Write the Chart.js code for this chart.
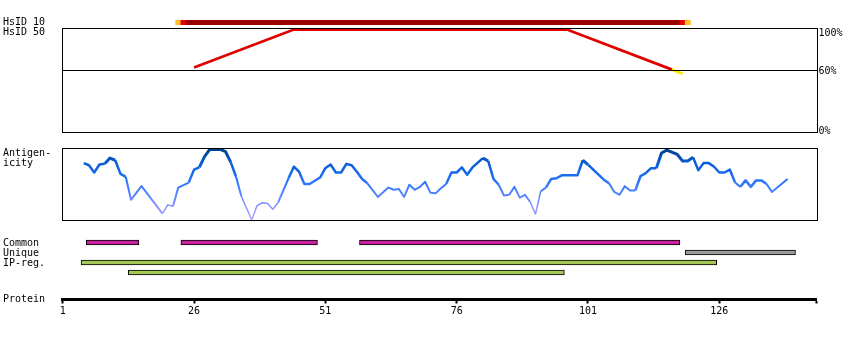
<!DOCTYPE html>
<html><head><meta charset="utf-8">
<script src="https://cdn.jsdelivr.net/npm/chart.js@4.4.1/dist/chart.umd.min.js"></script>
<style>
html,body{margin:0;padding:0;background:#fff;}
#wrap{position:relative;width:850px;height:340px;overflow:hidden;background:#fff;font-family:"DejaVu Sans Mono",monospace;font-size:10px;line-height:10px;color:#000;}
canvas{position:absolute;left:0;}
.lbl{position:absolute;left:3px;white-space:pre;}
</style></head><body>
<div id="wrap">
<canvas id="cHom" width="850" height="140" style="top:0px"></canvas>
<canvas id="cHsid10" width="850" height="5" style="top:20px"></canvas>
<canvas id="cAnt" width="850" height="90" style="top:140px"></canvas>
<canvas id="cFeat" width="850" height="41" style="top:237px"></canvas>
<canvas id="cAxis" width="850" height="40" style="top:280px"></canvas>
<div class="lbl" style="top:17px">HsID 10
HsID 50</div>
<div class="lbl" style="top:147.5px">Antigen-
icity</div>
<div class="lbl" style="top:237.5px">Common
Unique
IP-reg.</div>
<div class="lbl" style="top:294px">Protein</div>
</div>
<script>
// ---------- data ----------
const PROTEIN_LENGTH = 144;
const AXIS_TICKS = [1, 26, 51, 76, 101, 126];

// HsID 10 coverage (residue ranges with identity class)
const HSID10_START = [23, 24, 25, 119, 120];
const HSID10_END   = [23, 24, 118, 119, 120];
const HSID10_CLASS = ['low', 'mid', 'high', 'mid', 'low'];

// HsID 50 identity line (%)
const HSID50_RES = [26, 45, 97, 117, 119];
const HSID50_VAL = [62, 98.5, 98.5, 60, 56];
const HSID_TICKS = [0, 60, 100];
const HSID_THRESHOLD = 60;

// Antigenicity profile
const ANTIGEN_RES = [5,6,7,8,9,10,11,12,13,14,16,20,21,22,23,25,26,27,28,29,31,32,33,34,35,37,38,39,40,41,42,44,45,46,47,48,50,51,52,53,54,55,56,57,58,59,61,63,64,65,66,67,68,69,70,71,72,73,74,75,76,77,78,79,81,82,83,84,85,86,87,88,89,90,91,92,93,94,95,96,99,100,101,104,105,106,107,108,109,110,111,112,113,114,115,116,118,119,120,121,122,123,124,125,126,127,128,129,130,131,132,133,134,135,136,139];
const ANTIGEN_VAL = [79,76,66,77,78,86,83,64,60,28,47,9,21,19,45,52,70,73,88,98,98,95,80,60,33,0,20,24,23,15,24,58,74,67,50,50,59,72,77,66,66,78,76,67,57,51,32,45,42,43,32,49,42,46,53,38,37,44,50,66,66,73,63,73,86,82,57,49,34,35,46,31,35,25,8,40,45,57,58,62,62,83,77,56,51,39,35,47,41,41,61,65,72,72,93,97,91,82,82,87,69,79,79,74,66,66,70,52,46,55,46,55,55,50,39,57];

// Feature tracks
const FEATURE_TYPE  = ['Common', 'Common', 'Common', 'Unique', 'IP-reg.', 'IP-reg.'];
const FEATURE_ROW   = [0, 0, 0, 1, 2, 3];
const FEATURE_START = [6, 24, 58, 120, 5, 14];
const FEATURE_END   = [15, 49, 118, 140, 125, 96];

// ---------- styles ----------
const FONT = '10px "DejaVu Sans Mono"';
const HSID10_COLOR = {low: '#ffbf22', mid: '#e40000', high: '#9a0000'};
const RED = '#e00000', YELLOW = '#ffe800';
const TYPE_COLOR = {'Common': '#c8209e', 'Unique': '#9c9c9c', 'IP-reg.': '#a4c858'};
const PAD = {left: 62.7, right: 33.5};
const XMAX = PROTEIN_LENGTH + 0.5;

const baseOpts = () => ({
  responsive: false, animation: false, events: [],
  plugins: {legend: {display: false}, tooltip: {enabled: false}}
});

const framePlugin = {
  id: 'frame',
  afterDraw(chart, args, opts) {
    const {ctx, chartArea: a, scales} = chart;
    ctx.save();
    ctx.strokeStyle = '#000'; ctx.lineWidth = 1;
    const l = Math.floor(a.left) + 0.5, r = Math.ceil(a.right) + 0.5;
    const t = Math.round(a.top) + 0.5, b = Math.round(a.bottom) + 0.5;
    ctx.strokeRect(l, t, r - l, b - t);
    (opts.lines || []).forEach(v => {
      const y = Math.round(scales.y.getPixelForValue(v)) + 0.5;
      ctx.beginPath(); ctx.moveTo(l, y); ctx.lineTo(r, y); ctx.stroke();
    });
    if (opts.labels) {
      ctx.fillStyle = '#000'; ctx.font = FONT; ctx.textAlign = 'left'; ctx.textBaseline = 'alphabetic';
      opts.labels.forEach(v => {
        const p = scales.y.getPixelForValue(v);
        const yb = Math.min(Math.max(p + 4, a.top + 8), a.bottom + 1.5);
        ctx.fillText(v + '%', r + 1, yb);
      });
    }
    ctx.restore();
  }
};

// ---------- homology (HsID 50) ----------
new Chart(document.getElementById('cHom'), {
  type: 'line',
  data: {datasets: [{
    data: HSID50_RES.map((r, i) => ({x: r, y: HSID50_VAL[i]})),
    borderColor: RED, borderWidth: 2.8, pointRadius: 0, tension: 0, borderCapStyle: 'butt',
    segment: {borderColor: c => c.p1.parsed.y < HSID_THRESHOLD ? YELLOW : RED}
  }]},
  options: Object.assign(baseOpts(), {
    layout: {padding: {left: PAD.left, right: PAD.right, top: 28, bottom: 8}},
    scales: {
      x: {type: 'linear', min: 1, max: XMAX, display: false},
      y: {type: 'linear', min: 0, max: 100, display: false}
    },
    plugins: {legend: {display: false}, tooltip: {enabled: false},
      frame: {lines: HSID_TICKS.filter(v => v > 0 && v < 100), labels: HSID_TICKS.slice().reverse()}}
  }),
  plugins: [framePlugin]
});

// ---------- HsID 10 bar ----------
new Chart(document.getElementById('cHsid10'), {
  type: 'bar',
  data: {datasets: [{
    data: HSID10_START.map((s, i) => ({x: [s - 0.5, HSID10_END[i] + 0.5], y: 0})),
    backgroundColor: HSID10_CLASS.map(c => HSID10_COLOR[c]),
    borderWidth: 0, barThickness: 5
  }]},
  options: Object.assign(baseOpts(), {
    indexAxis: 'y',
    layout: {padding: {left: PAD.left, right: PAD.right, top: 0, bottom: 0}},
    scales: {
      x: {type: 'linear', min: 1, max: XMAX, display: false},
      y: {type: 'linear', min: -0.5, max: 0.5, offset: false, grid: {offset: false}, display: false}
    }
  })
});

// ---------- antigenicity ----------
function antigenGradient(chart) {
  const {ctx, chartArea, scales} = chart;
  if (!chartArea || !scales.y) return '#1a6ef0';
  const g = ctx.createLinearGradient(0, scales.y.getPixelForValue(0), 0, scales.y.getPixelForValue(100));
  g.addColorStop(0.0, '#b0a4ff');
  g.addColorStop(0.2, '#8890ff');
  g.addColorStop(0.4, '#4a82ff');
  g.addColorStop(0.6, '#1a6ff4');
  g.addColorStop(0.8, '#0a5cd2');
  g.addColorStop(1.0, '#003d82');
  return g;
}
function antigenWidth(v) { return v >= 80 ? 3 : v >= 50 ? 2.5 : v >= 25 ? 2 : 1.5; }

new Chart(document.getElementById('cAnt'), {
  type: 'line',
  data: {datasets: [{
    data: ANTIGEN_RES.map((r, i) => ({x: r, y: ANTIGEN_VAL[i]})),
    borderColor: c => antigenGradient(c.chart),
    borderWidth: 2, pointRadius: 0, tension: 0, borderJoinStyle: 'round',
    segment: {borderWidth: c => antigenWidth((c.p0.parsed.y + c.p1.parsed.y) / 2)}
  }]},
  options: Object.assign(baseOpts(), {
    layout: {padding: {left: PAD.left, right: PAD.right, top: 8, bottom: 10}},
    scales: {
      x: {type: 'linear', min: 1, max: XMAX, display: false},
      y: {type: 'linear', min: 0, max: 100, display: false}
    },
    plugins: {legend: {display: false}, tooltip: {enabled: false}, frame: {}}
  }),
  plugins: [framePlugin]
});

// ---------- feature tracks ----------
new Chart(document.getElementById('cFeat'), {
  type: 'bar',
  data: {datasets: [{
    data: FEATURE_START.map((s, i) => ({x: [s - 0.5, FEATURE_END[i] + 0.5], y: FEATURE_ROW[i]})),
    backgroundColor: FEATURE_TYPE.map(t => TYPE_COLOR[t]),
    borderColor: '#000', borderWidth: 1, borderSkipped: false, barThickness: 5
  }]},
  options: Object.assign(baseOpts(), {
    indexAxis: 'y',
    layout: {padding: {left: PAD.left, right: PAD.right, top: 0.5, bottom: 0.5}},
    scales: {
      x: {type: 'linear', min: 1, max: XMAX, display: false},
      y: {type: 'linear', min: -0.5, max: 3.5, reverse: true, offset: false, grid: {offset: false}, display: false}
    }
  })
});

// ---------- protein axis ----------
new Chart(document.getElementById('cAxis'), {
  type: 'line',
  data: {datasets: []},
  options: Object.assign(baseOpts(), {
    layout: {padding: {left: PAD.left, right: PAD.right, top: 0, bottom: 0}},
    scales: {
      x: {
        type: 'linear', min: 1, max: XMAX, position: 'bottom',
        afterBuildTicks: s => { s.ticks = AXIS_TICKS.concat([XMAX]).map(v => ({value: v})); },
        afterFit: s => { s.height = 20.5; },
        border: {display: true, width: 3, color: '#000'},
        grid: {display: true, drawOnChartArea: false, drawTicks: true, tickLength: 4, tickWidth: 2, tickColor: '#000'},
        ticks: {autoSkip: false, maxRotation: 0, padding: 2, color: '#000',
          font: {family: 'DejaVu Sans Mono', size: 10},
          callback: v => AXIS_TICKS.includes(v) ? String(v) : ''}
      },
      y: {display: false}
    }
  })
});
</script>
</body></html>
